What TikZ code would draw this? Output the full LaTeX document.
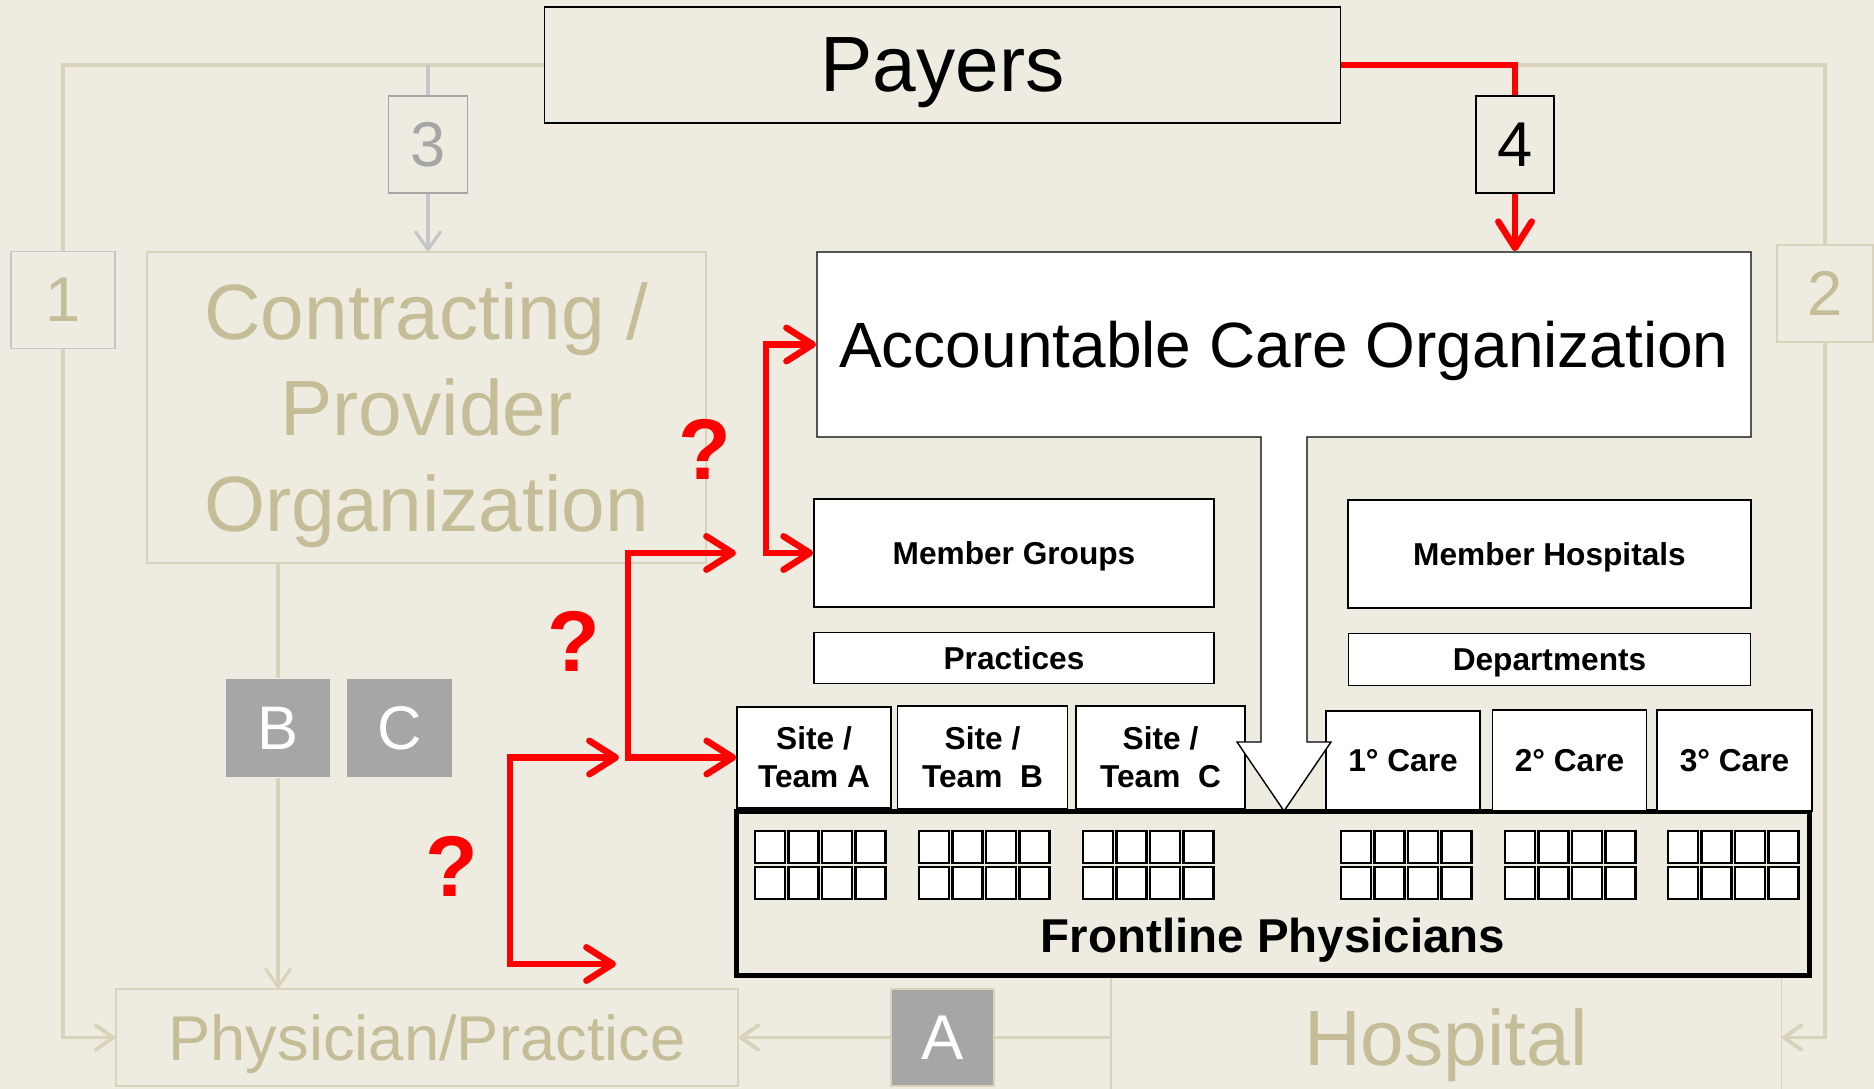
\documentclass[tikz,border=0pt]{standalone}
\usepackage{fontspec}
\setmainfont{Liberation Sans}
\usepackage{xcolor}
\definecolor{Parchment}{HTML}{EEECE1}
\definecolor{Khaki}{HTML}{C4BD97}
\definecolor{Sand}{HTML}{D8D3BA}
\definecolor{Ash}{HTML}{A6A6A6}
\definecolor{Mist}{HTML}{C6C6CA}
\colorlet{cBg}{Parchment}
\colorlet{cTan}{Khaki}
\colorlet{cLine}{Sand}
\colorlet{cGray}{Ash}
\colorlet{cPale}{Mist}
\usetikzlibrary{arrows.meta, positioning}
\tikzset{
	line width = .7pt,
	>={Straight Barb[round, length=5pt, width=7pt]},
	box/.style={
		draw,
		fill=white,
		inner sep=0pt,
		text depth=0pt,
		align=center,
		font=\fontsize{9}{10.8}\bfseries\selectfont
	},
	faded/.style={
		draw=cLine,
		text=cTan,
		inner sep=0pt,
		text depth=0pt,
		align=center,
		font=\fontsize{22.3}{27.3}\selectfont
	},
	tag/.style={
		draw,
		fill=cBg,
		inner sep=0pt,
		minimum height=.97cm,
		font=\fontsize{18}{18}\selectfont
	},
	chip/.style={
		fill=cGray,
		text=white,
		inner sep=0pt,
		minimum width=1.04cm,
		minimum height=.98cm,
		font=\fontsize{17.5}{18}\selectfont
	},
	route/.style={cLine, line width=1.1pt},
	thin route/.style={cLine, line width=.9pt},
	hot/.style={
		red,
		line width=1.85pt,
		>={Straight Barb[round, length=7.5pt, width=9.5pt]}
	},
	ask/.style={text=red, font=\fontsize{24.5}{24.5}\bfseries\selectfont},
	cell/.style={draw, fill=white, line width=.8pt}
}

\begin{document}
\begin{tikzpicture}[x=0.01cm, y=-0.01cm]
	\useasboundingbox (0,0) rectangle (1874,1089);
	\fill[cBg] (0,0) rectangle (1874,1089);

	\node (hosp) [faded, minimum width=6.7cm, minimum height=1.9cm] at (1446,1037.5) {Hospital};
	\node (payers) [draw, fill=cBg, inner sep=0pt, text depth=0pt, minimum width=7.95cm, minimum height=1.16cm, font=\fontsize{22.3}{26}\selectfont] at (942.5,65) {Payers};
	\node (n1) [tag, draw=cPale, text=cTan, minimum width=1.04cm] at (63,300) {1};
	\node (n2) [tag, draw=cLine, text=cTan, minimum width=.96cm] at (1825,293.5) {2};
	\node (n3) [tag, draw=cGray, text=cGray, minimum width=.79cm] at (428,144.5) {3};
	\node (n4) [tag, minimum width=.78cm] at (1515,144.5) {4};
	\node (cpo) [faded, minimum width=5.59cm, minimum height=3.11cm] at (426.5,407.5) {Contracting /\\Provider\\Organization};
	\node (nb) [chip] at (278,728) {B};
	\node (nc) [chip, right=.16cm of nb] {C};
	\node (pp) [faded, minimum width=6.22cm, minimum height=.97cm, font=\fontsize{18}{21.6}\selectfont] at (427,1037.5) {Physician/Practice};
	\node (na) [chip, draw=cLine, minimum width=1.03cm, minimum height=.97cm, font=\fontsize{18}{18}\selectfont] at (942.5,1037.5) {A};

	\draw[route] (payers.west) -| (n1.north);
	\draw[route, ->] (n1.south) |- (pp.west);
	\draw[route] (n4.north |- payers.east) -| (n2.north);
	\draw[route, ->] (n2.south) |- (hosp.east);
	\draw[cPale, line width=.9pt] (n3 |- payers.west) -- (n3.north);
	\draw[cPale, line width=.9pt, ->] (n3.south) -- (n3 |- cpo.north);
	\draw[thin route] (nb |- cpo.south) -- (nb.north);
	\draw[thin route, ->] (nb.south) -- (nb |- pp.north);
	\draw[route] (hosp.west) -- (na.east);
	\draw[route, ->] (na.west) -- (pp.east);

	\node (fp) [draw, fill=cBg, line width=1.4pt, inner sep=0pt, minimum width=10.72cm, minimum height=1.63cm] at (1273,893.5) {};
	\foreach \gx in {755,919,1083,1341,1505,1668}
		\foreach \i in {0,1,2,3}
			\foreach \gy in {831,867}
				\draw[cell] (\gx+\i*33.5,\gy) rectangle +(30,32);
	\node (fptext) [font=\fontsize{13.5}{15}\bfseries\selectfont] at (1273,940) {Frontline Physicians};

	\node (mg) [box, minimum width=4cm, minimum height=1.08cm] at (1014,553) {Member Groups};
	\node (prac) [box, below=.24cm of mg, minimum width=4cm, minimum height=.51cm] {Practices};
	\node (mh) [box, minimum width=4.03cm, minimum height=1.08cm] at (1549.5,554) {Member Hospitals};
	\node (dept) [box, below=.24cm of mh, minimum width=4.02cm, minimum height=.52cm] {Departments};
	\node (sa) [box, minimum width=1.54cm, minimum height=1.01cm] at (814,757.5) {Site /\\Team A};
	\node (sb) [box, right=.05cm of sa, minimum width=1.7cm, minimum height=1.03cm] {Site /\\Team~ B};
	\node (sc) [box, right=.07cm of sb, minimum width=1.69cm, minimum height=1.03cm] {Site /\\Team~ C};
	\node (c1) [box, minimum width=1.54cm, minimum height=.99cm] at (1403,760.5) {1° Care};
	\node (c2) [box, right=.11cm of c1, minimum width=1.54cm, minimum height=1.01cm] {2° Care};
	\node (c3) [box, right=.09cm of c2, minimum width=1.55cm, minimum height=1.01cm] {3° Care};

	\draw[fill=white] (817,252) -- (1751,252) -- (1751,437) -- (1307,437) -- (1307,742) -- (1331,742)
		-- (1284,811) -- (1237,742) -- (1261,742) -- (1261,437) -- (817,437) -- cycle;
	\node (aco) [inner sep=0pt, text depth=0pt, minimum width=9.34cm, minimum height=1.85cm, font=\fontsize{18.2}{20}\selectfont] at (1284,344.5) {Accountable Care Organization};

	\coordinate (j1) at (766,553);
	\coordinate (e2) at (736,553);
	\coordinate (j2) at (628,757.5);
	\coordinate (e3) at (619,757.5);
	\coordinate (j3) at (510,964);
	\coordinate (e4) at (616,964);
	\draw[hot] (payers.east) -| (n4.north);
	\draw[hot, ->] (n4.south) -- (n4.south |- aco.north);
	\draw[hot, <->] (aco.west) -| (j1) -- (mg.west);
	\draw[hot, <->] (e2) -| (j2) -- (sa.west);
	\draw[hot, <->] (e3) -| (j3) -- (e4);

	\node (q1) [ask] at (705,449) {?};
	\node (q2) [ask] at (574,641) {?};
	\node (q3) [ask] at (452,866) {?};
\end{tikzpicture}
\end{document}
